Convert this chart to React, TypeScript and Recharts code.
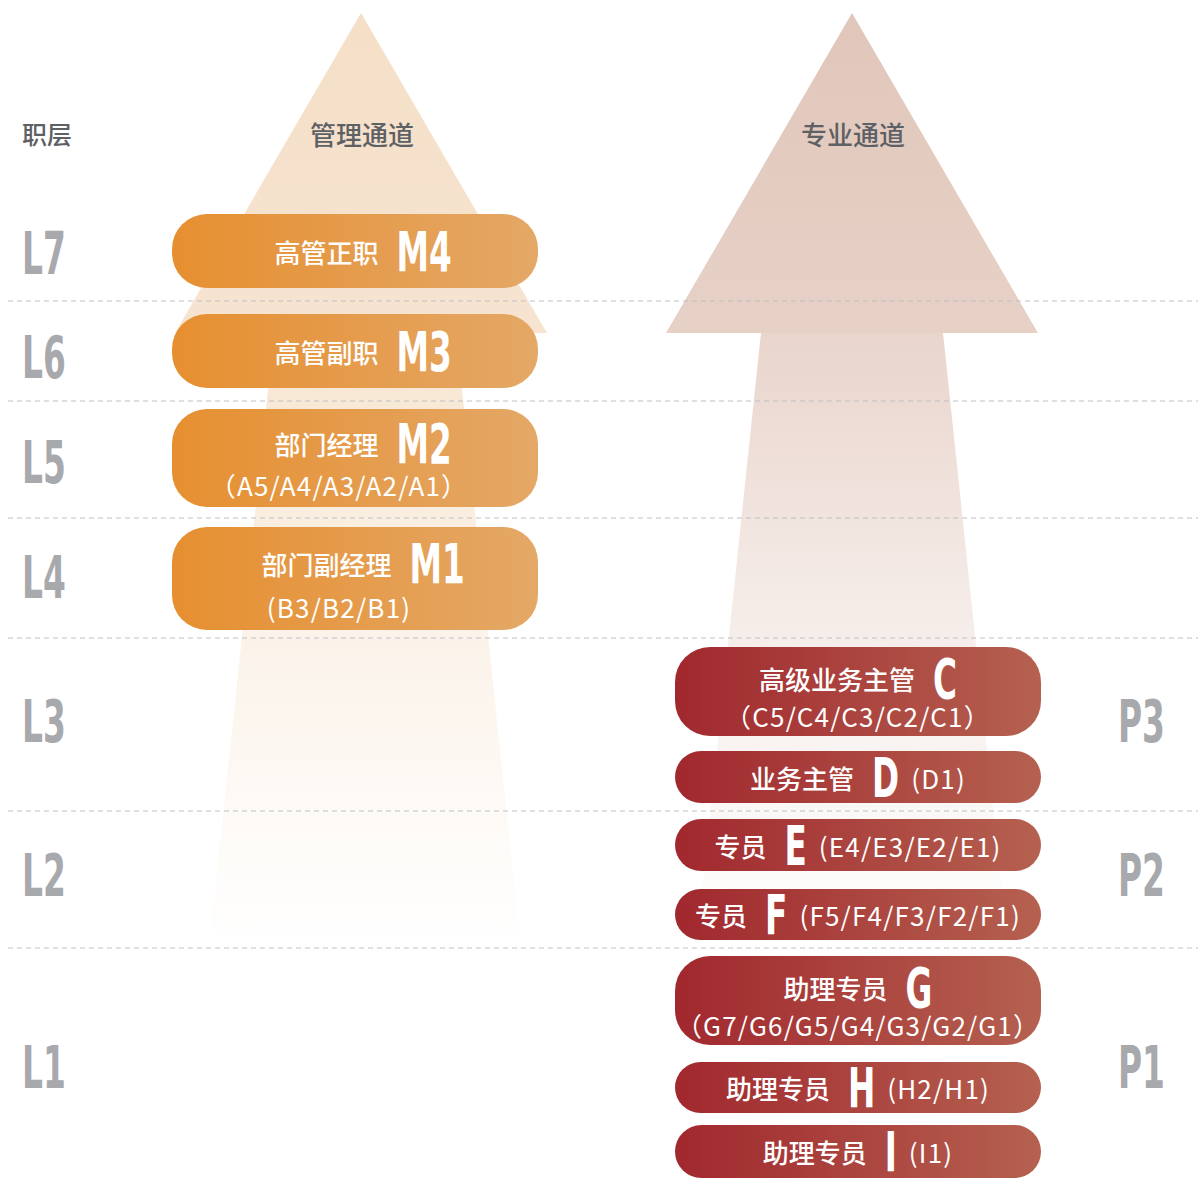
import { ComposedChart, XAxis, YAxis, ReferenceArea, ReferenceLine, Scatter } from 'recharts'

const W = 1198
const H = 1187

// level bands
const levels = ['L7', 'L6', 'L5', 'L4', 'L3', 'L2', 'L1']
const levelMid = [254, 358, 463, 578, 722, 876, 1068]
const bandEdges = [301, 401, 518, 638, 811, 948]
const profLevels = ['P3', 'P2', 'P1']
const profMid = [722, 876, 1068]

// the two channels (arrows)
const channels = ['管理通道', '专业通道']
const channelCenter = [361, 852]
const shaftCenter = [365, 852]

// management track
const mgmtNames = ['高管正职', '高管副职', '部门经理', '部门副经理']
const mgmtCodes = ['M4', 'M3', 'M2', 'M1']
const mgmtGrades = ['', '', '（A5/A4/A3/A2/A1）', '(B3/B2/B1)']
const mgmtTop = [214, 314, 409, 527]
const mgmtBottom = [288, 388, 507, 630]

// professional track
const profNames = ['高级业务主管', '业务主管', '专员', '专员', '助理专员', '助理专员', '助理专员']
const profCodes = ['C', 'D', 'E', 'F', 'G', 'H', 'I']
const profGrades = ['（C5/C4/C3/C2/C1）', '(D1)', '(E4/E3/E2/E1)', '(F5/F4/F3/F2/F1)', '（G7/G6/G5/G4/G3/G2/G1）', '(H2/H1)', '(I1)']
const profTop = [647, 751, 819, 889, 956, 1062, 1125]
const profBottom = [736, 803, 871, 940, 1045, 1113, 1178]

const CJK = '"Noto Sans CJK SC", "Noto Sans", sans-serif'
const COND = '"Liberation Sans Narrow", "DejaVu Sans Condensed", "Liberation Sans", sans-serif'
const CODE_SX = 0.66
const LEVEL_SX = 0.63
const SUB_SPACING = 1.2

let ctx: CanvasRenderingContext2D | null = null
function textWidth(s: string, font: string, spacing = 0) {
  if (!ctx) ctx = document.createElement('canvas').getContext('2d')
  ctx!.font = font
  return ctx!.measureText(s).width + spacing * s.length
}

function Cond({ x, y, text, size, fill, sx }: any) {
  return (
    <text
      transform={`translate(${x},${y}) scale(${sx},1)`}
      fontFamily={COND}
      fontWeight="bold"
      fontSize={size}
      fill={fill}
      dominantBaseline="central"
    >
      {text}
    </text>
  )
}

function Pill(props: any) {
  const { x, y, width, height, name, code, grade, colors, id, mainShift, subShift } = props
  const r = Math.min(35, height / 2)
  const cx = x + width / 2
  const twoLine = height > 80
  const cyMain = twoLine ? y + height * 0.35 : y + height / 2
  const cySub = y + height * 0.77
  const nameFont = `500 26px ${CJK}`
  const gradeFont = `400 26px ${CJK}`
  const wName = textWidth(name, nameFont)
  const wCode = textWidth(code, `bold 55px ${COND}`) * CODE_SX
  const wGrade = !twoLine && grade ? textWidth(grade, gradeFont, SUB_SPACING) : 0
  const g1 = 18
  const g2 = 12
  const total = wName + g1 + wCode + (wGrade ? g2 + wGrade : 0)
  const x0 = cx - total / 2 + mainShift
  return (
    <g>
      <defs>
        <linearGradient id={id} x1="0" y1="0" x2="1" y2="0">
          <stop offset="0%" stopColor={colors[0]} />
          <stop offset="100%" stopColor={colors[1]} />
        </linearGradient>
      </defs>
      <rect x={x} y={y} width={width} height={height} rx={r} ry={r} fill={`url(#${id})`} />
      <text x={x0} y={cyMain} fontFamily={CJK} fontWeight={500} fontSize={26} fill="#fff" dominantBaseline="central">
        {name}
      </text>
      <Cond x={x0 + wName + g1} y={cyMain + 1} text={code} size={55} fill="#fff" sx={CODE_SX} />
      {wGrade > 0 && (
        <text
          x={x0 + wName + g1 + wCode + g2}
          y={cyMain}
          fontFamily={CJK}
          fontSize={26}
          letterSpacing={SUB_SPACING}
          fill="#fff"
          dominantBaseline="central"
        >
          {grade}
        </text>
      )}
      {twoLine && grade && (
        <text
          x={cx + subShift}
          y={cySub}
          fontFamily={CJK}
          fontSize={26}
          letterSpacing={SUB_SPACING}
          fill="#fff"
          textAnchor="middle"
          dominantBaseline="central"
        >
          {grade}
        </text>
      )}
    </g>
  )
}

const headColors = [['#f5dfc7', '#f6e4d1'], ['#e1c6ba', '#e7d1c7']]
const shaftColors = [['#f7e5d0', '#fbf2e8'], ['#e9d5cc', '#f5ece8']]

function Head(props: any) {
  const { x, y, width, height, i } = props
  const id = `head${i}`
  return (
    <g>
      <defs>
        <linearGradient id={id} x1="0" y1="0" x2="0" y2="1">
          <stop offset="0%" stopColor={headColors[i][0]} />
          <stop offset="100%" stopColor={headColors[i][1]} />
        </linearGradient>
      </defs>
      <polygon points={`${x + width / 2},${y} ${x + width},${y + height} ${x},${y + height}`} fill={`url(#${id})`} />
      <text x={x + width / 2 + 1} y={133} textAnchor="middle" dominantBaseline="central" fontFamily={CJK} fontWeight={500} fontSize={26} fill="#5d6064">
        {channels[i]}
      </text>
    </g>
  )
}

function Shaft(props: any) {
  const { x, y, width, height, i } = props
  const id = `shaft${i}`
  const inset = width * (1 - 91 / 156) / 2
  return (
    <g>
      <defs>
        <linearGradient id={id} x1="0" y1="0" x2="0" y2="1">
          <stop offset="0%" stopColor={shaftColors[i][0]} />
          <stop offset="45%" stopColor={shaftColors[i][1]} />
          <stop offset="100%" stopColor="#ffffff" />
        </linearGradient>
      </defs>
      <polygon
        points={`${x + inset},${y} ${x + width - inset},${y} ${x + width},${y + height} ${x},${y + height}`}
        fill={`url(#${id})`}
      />
    </g>
  )
}

const levelData = levels.map((l, i) => ({ x: 22, y: levelMid[i], label: l }))
const profData = profLevels.map((l, i) => ({ x: 1118, y: profMid[i], label: l }))
const headerData = [{ x: 22, y: 133, label: '职层' }]

export default function App() {
  return (
    <div style={{ position: 'absolute', left: 0, top: 0, background: '#fff' }}>
      <ComposedChart width={W} height={H} margin={{ top: 0, right: 0, bottom: 0, left: 0 }}>
        <XAxis type="number" dataKey="x" domain={[0, W]} hide allowDataOverflow />
        <YAxis type="number" dataKey="y" domain={[0, H]} reversed hide allowDataOverflow />
        {channels.map((c, i) => (
          <ReferenceArea
            key={'s' + c}
            x1={shaftCenter[i] - 156}
            x2={shaftCenter[i] + 156}
            y1={333}
            y2={948}
            shape={(p: any) => <Shaft {...p} i={i} />}
          />
        ))}
        {channels.map((c, i) => (
          <ReferenceArea
            key={'h' + c}
            x1={channelCenter[i] - 186}
            x2={channelCenter[i] + 186}
            y1={13}
            y2={333}
            shape={(p: any) => <Head {...p} i={i} />}
          />
        ))}
        {bandEdges.map((v) => (
          <ReferenceLine key={v} segment={[{ x: 8, y: v }, { x: W, y: v }]} stroke="#bcc0c5" strokeDasharray="5 4" />
        ))}
        {mgmtNames.map((n, i) => (
          <ReferenceArea
            key={'m' + i}
            x1={172}
            x2={538}
            y1={mgmtTop[i]}
            y2={mgmtBottom[i]}
            shape={(p: any) => (
              <Pill
                {...p}
                id={`mg${i}`}
                name={n}
                code={mgmtCodes[i]}
                grade={mgmtGrades[i]}
                colors={['#e68f30', '#e4a867']}
                mainShift={8}
                subShift={-16}
              />
            )}
          />
        ))}
        {profNames.map((n, i) => (
          <ReferenceArea
            key={'p' + i}
            x1={675}
            x2={1041}
            y1={profTop[i]}
            y2={profBottom[i]}
            shape={(p: any) => (
              <Pill
                {...p}
                id={`pg${i}`}
                name={n}
                code={profCodes[i]}
                grade={profGrades[i]}
                colors={['#a1282e', '#b56150']}
                mainShift={0}
                subShift={0}
              />
            )}
          />
        ))}
        <Scatter
          data={levelData}
          isAnimationActive={false}
          shape={(p: any) => <Cond x={p.cx} y={p.cy} text={p.payload.label} size={58} fill="#a7a9ad" sx={LEVEL_SX} />}
        />
        <Scatter
          data={profData}
          isAnimationActive={false}
          shape={(p: any) => <Cond x={p.cx} y={p.cy} text={p.payload.label} size={58} fill="#a7a9ad" sx={LEVEL_SX} />}
        />
        <Scatter
          data={headerData}
          isAnimationActive={false}
          shape={(p: any) => (
            <text x={p.cx} y={p.cy} dominantBaseline="central" fontFamily={CJK} fontWeight={500} fontSize={25} fill="#5d6064">
              {p.payload.label}
            </text>
          )}
        />
      </ComposedChart>
    </div>
  )
}
